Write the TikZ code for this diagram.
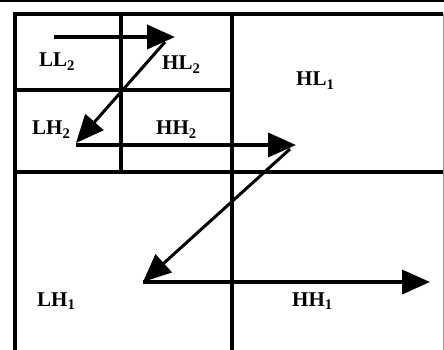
\documentclass[tikz,border=0pt]{standalone}
\usepackage{fontspec}
\setmainfont{Liberation Serif}
\usetikzlibrary{arrows.meta}

\begin{document}
\begin{tikzpicture}[
  x=1pt, y=-1pt, >={Triangle[length=28pt,width=24pt]},
  grid/.style={line width=3.2pt},
  lbl/.style={anchor=base west, inner sep=0pt, font=\bfseries\fontsize{21}{21}\selectfont},
  flow/.style={->, line width=3.8pt},
  slant/.style={->, line width=3pt}]

\useasboundingbox (0,0) rectangle (444,350);

% frame and subbands
\draw[line width=2.4pt] (0,1) -- (444,1);
\draw[black!40, line width=1pt] (443,14) -- (443,350);
\draw[grid] (15,350) -- (15,14) -- (443,14);
\draw[grid] (121,14) -- (121,172);
\draw[grid] (15,90) -- (232,90);
\draw[grid] (232,14) -- (232,350);
\draw[grid] (15,172) -- (443,172);

% labels
\node (ll2) [lbl] at (39,67) {LL\textsubscript{2}};
\node (hl2) [lbl] at (162,70) {HL\textsubscript{2}};
\node (hl1) [lbl] at (296,86) {HL\textsubscript{1}};
\node (lh2) [lbl] at (32,135) {LH\textsubscript{2}};
\node (hh2) [lbl] at (156,135) {HH\textsubscript{2}};
\node (lh1) [lbl] at (37,306) {LH\textsubscript{1}};
\node (hh1) [lbl] at (292,306) {HH\textsubscript{1}};

% scan order
\coordinate (a0) at (54,37);   \coordinate (a1) at (175,37);
\coordinate (b0) at (165,42);  \coordinate (b1) at (76,143);
\coordinate (c0) at (76,145);  \coordinate (c1) at (296,145);
\coordinate (d0) at (290,149); \coordinate (d1) at (143,282);
\coordinate (e0) at (143,282); \coordinate (e1) at (430,282);

\foreach \a/\b in {a0/a1, c0/c1, e0/e1} \draw[flow] (\a) -- (\b);
\foreach \a/\b in {b0/b1, d0/d1} \draw[slant] (\a) -- (\b);
\end{tikzpicture}
\end{document}
